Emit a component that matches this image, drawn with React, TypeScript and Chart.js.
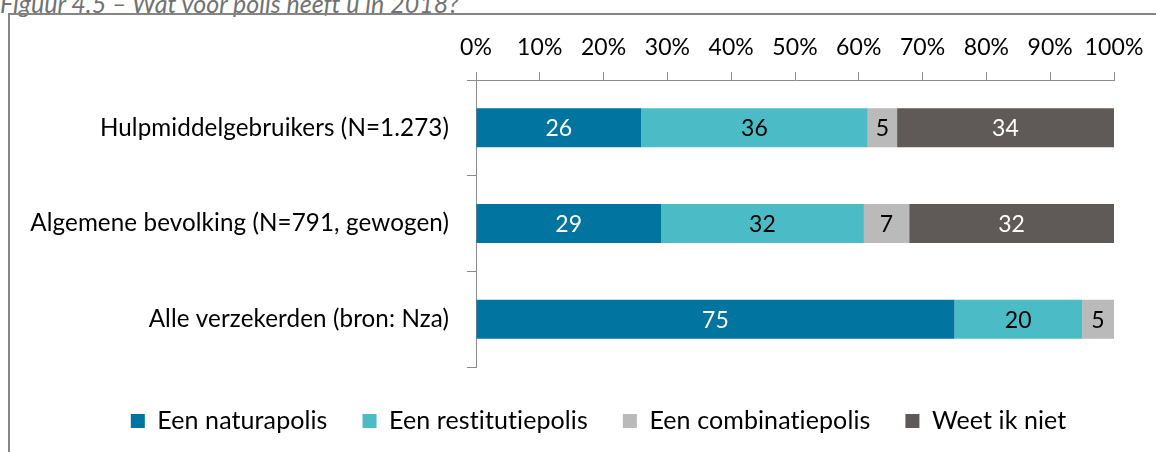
import React, { useEffect, useRef } from "react";
import { Chart, registerables } from "chart.js";

Chart.register(...registerables);

const titleText = "Figuur 4.5 – Wat voor polis heeft u in 2018?";
const categories = [
  "Hulpmiddelgebruikers (N=1.273)",
  "Algemene bevolking (N=791, gewogen)",
  "Alle verzekerden (bron: Nza)",
];
const seriesNames = ["Een naturapolis", "Een restitutiepolis", "Een combinatiepolis", "Weet ik niet"];
const naturapolis = [25.9, 29.0, 75.0];
const restitutiepolis = [35.5, 31.8, 20.0];
const combinatiepolis = [4.6, 7.1, 5.0];
const weetIkNiet = [34.0, 32.1, null];
const seriesColors = ["#0174A0", "#4BBCC6", "#BBBABA", "#5F5A57"];
const labelColors = ["#FFFFFF", "#000000", "#000000", "#FFFFFF"];
const xTicks = [0, 10, 20, 30, 40, 50, 60, 70, 80, 90, 100];

const FONT = "Lato";
const TICK_FS = 23;
const CAT_FS = 24.2;
const LEG_FS = 25;
const VAL_FS = 23;

const noLigatures = {
  id: "noLigatures",
  beforeDraw(chart: any) {
    try {
      chart.ctx.letterSpacing = "0.1px";
    } catch (e) {}
  },
};

const valueLabels = {
  id: "valueLabels",
  afterDatasetsDraw(chart: any) {
    const ctx = chart.ctx;
    ctx.save();
    ctx.font = `${VAL_FS}px ${FONT}`;
    ctx.textAlign = "center";
    ctx.textBaseline = "middle";
    chart.data.datasets.forEach((ds: any, i: number) => {
      const meta = chart.getDatasetMeta(i);
      meta.data.forEach((el: any, j: number) => {
        const v = ds.data[j];
        if (v === null || v === undefined) return;
        ctx.fillStyle = labelColors[i];
        ctx.fillText(String(Math.round(v)), (el.x + el.base) / 2, el.y + 1);
      });
    });
    ctx.restore();
  },
};

const shiftLegend = {
  id: "shiftLegend",
  afterLayout(chart: any) {
    const lg = chart.legend;
    if (lg) {
      lg.left += 39;
      lg.right += 39;
      lg.top += 6.5;
      lg.bottom += 6.5;
    }
  },
};

export default function App() {
  const ref = useRef<HTMLCanvasElement>(null);
  useEffect(() => {
    const chart = new Chart(ref.current as HTMLCanvasElement, {
      type: "bar",
      data: {
        labels: categories,
        datasets: [naturapolis, restitutiepolis, combinatiepolis, weetIkNiet].map((d, i) => ({
          label: seriesNames[i],
          data: d as any,
          backgroundColor: seriesColors[i],
          borderWidth: 0,
          barPercentage: 0.407,
          categoryPercentage: 1,
        })),
      },
      options: {
        indexAxis: "y",
        responsive: false,
        animation: false,
        devicePixelRatio: 1,
        layout: { padding: { left: 0, right: 42, top: 0, bottom: 15 } },
        plugins: {
          tooltip: { enabled: false },
          legend: {
            position: "bottom",
            labels: {
              boxWidth: 14,
              boxHeight: 14,
              padding: 35,
              color: "#000",
              font: { family: FONT, size: LEG_FS },
            },
          },
        },
        scales: {
          x: {
            position: "top",
            stacked: true,
            min: 0,
            max: 100,
            afterFit: (s: any) => {
              s.height = 80;
            },
            afterBuildTicks: (s: any) => {
              s.ticks = xTicks.map((v) => ({ value: v }));
            },
            ticks: {
              callback: (v: any) => v + "%",
              color: "#000",
              font: { family: FONT, size: TICK_FS },
              padding: 11,
              maxRotation: 0,
            },
            grid: { drawOnChartArea: false, tickLength: 8, color: "#8C8C8C" },
            border: { color: "#8C8C8C", width: 1 },
          },
          y: {
            stacked: true,
            afterFit: (s: any) => {
              s.width = 476;
            },
            ticks: {
              color: "#000",
              font: { family: FONT, size: CAT_FS },
              padding: 18,
            },
            grid: { drawOnChartArea: false, tickLength: 9, color: "#8C8C8C", offset: true },
            border: { color: "#8C8C8C", width: 1 },
          },
        },
      },
      plugins: [noLigatures, valueLabels, shiftLegend],
    });
    return () => chart.destroy();
  }, []);

  return (
    <div style={{ position: "fixed", left: 0, top: 0, width: 1156, height: 452, overflow: "hidden", background: "#fff" }}>
      <div
        style={{
          position: "absolute",
          left: 0,
          top: -9,
          fontFamily: FONT,
          fontStyle: "italic",
          fontSize: 25,
          lineHeight: "25px",
          color: "#727272",
          whiteSpace: "nowrap",
          fontVariantLigatures: "none",
        }}
      >
        {titleText}
      </div>
      <div
        style={{
          position: "absolute",
          left: 8,
          top: 13,
          width: 2000,
          height: 1000,
          border: "2px solid #858585",
        }}
      />
      <canvas ref={ref} width={1156} height={452} style={{ position: "absolute", left: 0, top: 0 }} />
    </div>
  );
}
